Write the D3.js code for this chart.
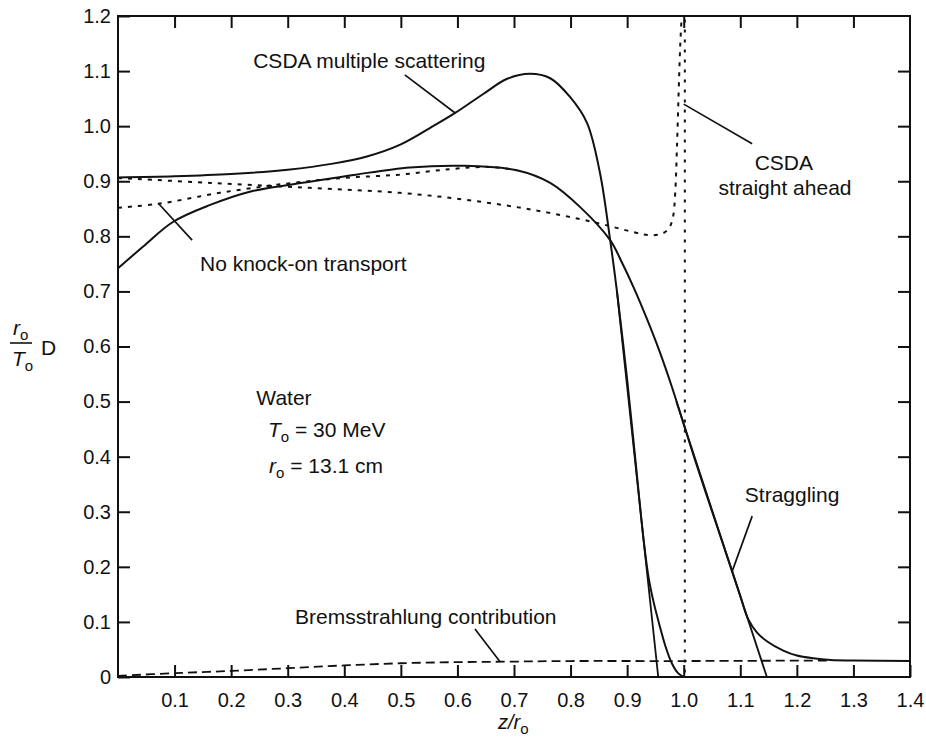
<!DOCTYPE html>
<html>
<head>
<meta charset="utf-8">
<script src="https://cdn.jsdelivr.net/npm/d3@7"></script>
<style>
  html, body { margin: 0; padding: 0; background: #fff; }
  svg text { font-family: "Liberation Sans", Arial, Helvetica, sans-serif; fill: #111; }
</style>
</head>
<body>
<svg id="chart" width="926" height="740"></svg>
<script>
// Depth-dose curves for 30 MeV electrons in water: [z/r0, (r0/T0)·D]
const csdaMultipleScattering = [
  [0.000, 0.907], [0.100, 0.909], [0.200, 0.913], [0.300, 0.921], [0.380, 0.932],
  [0.440, 0.945], [0.500, 0.967], [0.557, 1.000], [0.596, 1.024],
  [0.645, 1.058], [0.688, 1.086], [0.728, 1.095], [0.764, 1.087], [0.799, 1.053],
  [0.829, 1.006], [0.852, 0.915], [0.870, 0.793], [0.882, 0.700], [0.900, 0.540],
  [0.914, 0.400], [0.929, 0.250], [0.938, 0.180], [0.947, 0.135], [0.957, 0.095],
  [0.968, 0.055], [0.979, 0.025], [0.990, 0.007], [1.000, 0.000]
];
const straggling = [
  [0.000, 0.742], [0.044, 0.781], [0.097, 0.826], [0.163, 0.857], [0.233, 0.881],
  [0.339, 0.899], [0.420, 0.912], [0.516, 0.925], [0.610, 0.928], [0.705, 0.920],
  [0.764, 0.897], [0.817, 0.853], [0.870, 0.793], [0.891, 0.752], [0.912, 0.706],
  [0.935, 0.650], [0.957, 0.592], [0.979, 0.527], [1.000, 0.459], [1.020, 0.394],
  [1.050, 0.301], [1.080, 0.209], [1.100, 0.147], [1.114, 0.105], [1.130, 0.080],
  [1.147, 0.065], [1.176, 0.048], [1.200, 0.039], [1.229, 0.034], [1.260, 0.031],
  [1.300, 0.030], [1.400, 0.029]
];
const noKnockOnTransport = [
  [0.000, 0.852], [0.071, 0.859], [0.180, 0.879], [0.292, 0.895], [0.398, 0.906],
  [0.498, 0.912], [0.587, 0.922], [0.658, 0.926], [0.705, 0.920]
];
const csdaStraightAhead = [
  [0.000, 0.906], [0.163, 0.897], [0.339, 0.888], [0.498, 0.879], [0.617, 0.866],
  [0.734, 0.848], [0.840, 0.826], [0.910, 0.808], [0.940, 0.802], [0.962, 0.805],
  [0.974, 0.815], [0.981, 0.835], [0.985, 0.880], [0.988, 0.960], [0.991, 1.060],
  [0.994, 1.150], [0.998, 1.230]
];
const csdaStraightAheadCutoff = [[1.002, 1.230], [1.002, 0.000]];
const bremsstrahlung = [
  [0.000, 0.002], [0.100, 0.007], [0.200, 0.011], [0.300, 0.016], [0.400, 0.021],
  [0.500, 0.025], [0.600, 0.027], [0.700, 0.028], [0.800, 0.029], [1.000, 0.029],
  [1.260, 0.030]
];
// straight-line extrapolations of the steepest falloff
const csdaTangent = [[0.882, 0.700], [0.955, 0.000]];
const stragglingTangent = [[0.987, 0.500], [1.147, 0.000]];

const xTicks = [0.1, 0.2, 0.3, 0.4, 0.5, 0.6, 0.7, 0.8, 0.9, 1.0, 1.1, 1.2, 1.3, 1.4];
const yTicks = [0, 0.1, 0.2, 0.3, 0.4, 0.5, 0.6, 0.7, 0.8, 0.9, 1.0, 1.1, 1.2];

const margin = { left: 118, top: 16, right: 16, bottom: 63 };
const W = 926, H = 740;
const iw = W - margin.left - margin.right;
const ih = H - margin.top - margin.bottom;

const svg = d3.select("#chart");
const g = svg.append("g").attr("transform", `translate(${margin.left},${margin.top})`);

const x = d3.scaleLinear().domain([0, 1.4]).range([0, iw]);
const y = d3.scaleLinear().domain([0, 1.2]).range([ih, 0]);

svg.append("defs").append("clipPath").attr("id", "plot-clip")
  .append("rect").attr("x", 0).attr("y", 0).attr("width", iw).attr("height", ih);

const fmt = d => d === 0 ? "0" : d3.format(".1f")(d);
const tickLen = 12;

function styleAxis(sel, fontSize) {
  sel.select(".domain").remove();
  sel.selectAll(".tick line").attr("stroke", "#111").attr("stroke-width", 2);
  sel.selectAll(".tick text").style("font-size", fontSize + "px").attr("fill", "#111");
}

// bottom and left axes carry labels; ticks point into the plot
g.append("g").attr("transform", `translate(0,${ih})`)
  .call(d3.axisBottom(x).tickValues(xTicks).tickFormat(fmt).tickSize(-tickLen).tickPadding(16))
  .call(s => styleAxis(s, 20));
g.append("g")
  .call(d3.axisLeft(y).tickValues(yTicks).tickFormat(fmt).tickSize(-tickLen).tickPadding(7))
  .call(s => styleAxis(s, 20));
g.append("g")
  .call(d3.axisTop(x).tickValues(xTicks.filter(v => v < 1.4)).tickFormat("").tickSize(-tickLen))
  .call(s => styleAxis(s, 20));
g.append("g").attr("transform", `translate(${iw},0)`)
  .call(d3.axisRight(y).tickValues(yTicks.filter(v => v > 0 && v < 1.2)).tickFormat("").tickSize(-tickLen))
  .call(s => styleAxis(s, 20));

const smooth = d3.line().x(d => x(d[0])).y(d => y(d[1])).curve(d3.curveCatmullRom.alpha(0.5));
const straight = d3.line().x(d => x(d[0])).y(d => y(d[1]));

const curves = g.append("g").attr("clip-path", "url(#plot-clip)")
  .attr("fill", "none").attr("stroke", "#111").attr("stroke-linejoin", "round");

curves.append("path").attr("d", smooth(bremsstrahlung))
  .attr("stroke-width", 1.8).attr("stroke-dasharray", "9,5");
curves.append("path").attr("d", smooth(csdaStraightAhead))
  .attr("stroke-width", 2).attr("stroke-dasharray", "4,6");
curves.append("path").attr("d", straight(csdaStraightAheadCutoff))
  .attr("stroke-width", 2).attr("stroke-dasharray", "3,7");
curves.append("path").attr("d", smooth(noKnockOnTransport))
  .attr("stroke-width", 2).attr("stroke-dasharray", "4,6");
curves.append("path").attr("d", smooth(csdaMultipleScattering)).attr("stroke-width", 2);
curves.append("path").attr("d", smooth(straggling)).attr("stroke-width", 2);
curves.append("path").attr("d", straight(csdaTangent)).attr("stroke-width", 1.8);
curves.append("path").attr("d", straight(stragglingTangent)).attr("stroke-width", 1.8);

// plot frame
g.append("rect").attr("x", 0).attr("y", 0).attr("width", iw).attr("height", ih)
  .attr("fill", "none").attr("stroke", "#111").attr("stroke-width", 2);

// curve labels with leader lines
const labelSize = 21;
function leader(a, b) {
  g.append("line")
    .attr("x1", x(a[0])).attr("y1", y(a[1]))
    .attr("x2", x(b[0])).attr("y2", y(b[1]))
    .attr("stroke", "#111").attr("stroke-width", 1.7);
}
function label(txt, zx, dy, anchor) {
  return g.append("text").attr("x", x(zx)).attr("y", y(dy))
    .attr("text-anchor", anchor || "start").style("font-size", labelSize + "px").text(txt);
}

label("CSDA multiple scattering", 0.239, 1.106);
leader([0.507, 1.093], [0.596, 1.024]);

label("CSDA", 1.177, 0.9205, "middle");
label("straight ahead", 1.179, 0.875, "middle");
leader([1.000, 1.040], [1.121, 0.968]);

label("No knock-on transport", 0.145, 0.737);
leader([0.0712, 0.860], [0.131, 0.793]);

label("Straggling", 1.108, 0.3177);
leader([1.121, 0.292], [1.085, 0.190]);

label("Bremsstrahlung contribution", 0.313, 0.096);
leader([0.631, 0.087], [0.675, 0.028]);

// material and beam parameters
label("Water", 0.2934, 0.494, "middle");
const t0 = g.append("text").attr("x", x(0.265)).attr("y", y(0.4357)).style("font-size", labelSize + "px");
t0.append("tspan").attr("font-style", "italic").text("T");
t0.append("tspan").attr("dy", 5).style("font-size", "15px").text("o");
t0.append("tspan").attr("dy", -5).text(" = 30 MeV");
const r0 = g.append("text").attr("x", x(0.267)).attr("y", y(0.370)).style("font-size", labelSize + "px");
r0.append("tspan").attr("font-style", "italic").text("r");
r0.append("tspan").attr("dy", 5).style("font-size", "15px").text("o");
r0.append("tspan").attr("dy", -5).text(" = 13.1 cm");

// x-axis title: z/r0
const xt = svg.append("text").attr("x", 498).attr("y", 729).style("font-size", "20px");
xt.append("tspan").attr("font-style", "italic").text("z/r");
xt.append("tspan").attr("dy", 5).style("font-size", "15px").text("o");

// y-axis title: (r0/T0) D
const yTop = svg.append("text").attr("x", 13).attr("y", 335).style("font-size", "21px");
yTop.append("tspan").attr("font-style", "italic").text("r");
yTop.append("tspan").attr("dy", 5).style("font-size", "15px").text("o");
svg.append("line").attr("x1", 10).attr("x2", 32).attr("y1", 343).attr("y2", 343)
  .attr("stroke", "#111").attr("stroke-width", 1.6);
const yBot = svg.append("text").attr("x", 12).attr("y", 366).style("font-size", "21px");
yBot.append("tspan").attr("font-style", "italic").text("T");
yBot.append("tspan").attr("dy", 5).style("font-size", "15px").text("o");
svg.append("text").attr("x", 41).attr("y", 355).style("font-size", "21px").text("D");
</script>
</body>
</html>
